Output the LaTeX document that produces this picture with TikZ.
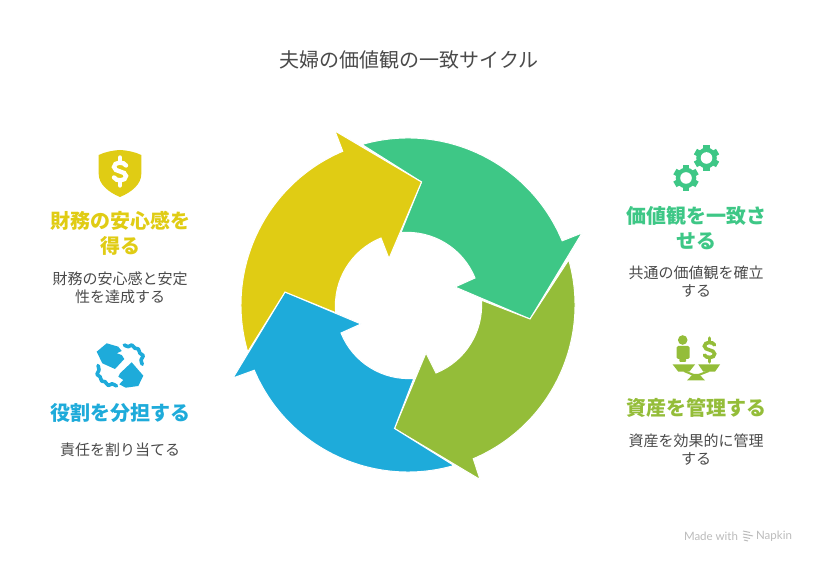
\documentclass[tikz,border=0pt]{standalone}
\usepackage{fontspec}
\setmainfont{Noto Sans CJK JP}
\newfontfamily\footfont{Lato}
\definecolor{ringyellow}{HTML}{E0CC14}
\definecolor{ringgreen}{HTML}{3EC786}
\definecolor{ringlime}{HTML}{94BD39}
\definecolor{ringblue}{HTML}{1EABDA}
\definecolor{bodygray}{HTML}{4A4A4A}
\definecolor{footgray}{HTML}{BBBBBB}
\tikzset{
    pics/dollar/.style={code={
        \draw[pic actions,line width=#1,line cap=round] (6,6) .. controls (4,10) and (-6,10) .. (-6,4.5)
            .. controls (-6,-1) and (6,1) .. (6,-4.5)
            .. controls (6,-10) and (-4,-10) .. (-6,-6);
        \draw[pic actions,line width=#1,line cap=round] (0,9) -- (0,14);
        \draw[pic actions,line width=#1,line cap=round] (0,-9) -- (0,-14);
    }},
    gear/.pic={
        \fill[pic actions] (0,0) circle (10.3);
        \foreach \ang in {0,60,...,300}
            \fill[pic actions,rotate=\ang] (-3.2,8) rectangle (3.2,12.8);
        \fill[white] (0,0) circle (5.8);
    }
}

\begin{document}
\begin{tikzpicture}[
        x=1pt,y=1pt,
        petal/.style={draw=white,line width=1pt,line join=miter},
        titletext/.style={text=bodygray,font=\fontsize{20}{26}\selectfont},
        headtext/.style={align=center,inner sep=0pt,font=\fontsize{20}{25.5}\selectfont\bfseries},
        desctext/.style={text=bodygray,align=center,inner sep=0pt,font=\fontsize{15}{18}\selectfont},
        wavy/.style={draw=ringblue,line width=3.6pt,line cap=round,line join=round},
    ]
    \useasboundingbox (0,0) rectangle (816,564);
    \coordinate (c) at (408,259);

    % ring of arrows
    \fill[ringgreen,petal] ([shift={(106:167)}]c) arc[start angle=106,end angle=22.6,radius=167]
        -- (582,331) -- (530,245) -- (455,277) -- (475,286)
        arc[start angle=22,end angle=95,radius=73] -- (421.5,382) -- cycle;
    \fill[ringlime,petal] ([shift={(15.7:167)}]c) arc[start angle=15.7,end angle=-67,radius=167]
        -- (480,84.5) -- (394.5,135.5) -- (426,211) -- (436,191)
        arc[start angle=-68,end angle=4,radius=73] -- (530,245) -- cycle;
    \fill[ringblue,petal] ([shift={(-74:167)}]c) arc[start angle=-74,end angle=-157,radius=167]
        -- (233,186) -- (285,272) -- (361,240) -- (341,231)
        arc[start angle=-158,end angle=-86,radius=73] -- (394.5,135.5) -- cycle;
    \fill[ringyellow,petal] ([shift={(196.3:167)}]c) arc[start angle=196.3,end angle=113,radius=167]
        -- (335,433) -- (421.5,382) -- (389,305.5) -- (381,326)
        arc[start angle=112,end angle=185.5,radius=73] -- (285,272) -- cycle;

    % title
    \node[titletext] (title) at (409,504.5) {夫婦の価値観の一致サイクル};

    % left column
    \fill[ringyellow] (120,414) .. controls (112,413.5) and (105,412) .. (98.7,409)
        -- (98.7,390) .. controls (98.7,380) and (108,372) .. (120,367)
        .. controls (132,372) and (141.3,380) .. (141.3,390) -- (141.3,409)
        .. controls (135,412) and (128,413.5) .. cycle;
    \pic[draw=white] (sign) at (120,392.5) {dollar=4.4pt};
    \node[headtext,text=ringyellow] (safety) at (120,330.5) {財務の安心感を\\得る};
    \node[desctext] (safetytext) at (120,276) {財務の安心感と安定\\性を達成する};

    \fill[ringblue] (96.7,212.3) -- (106.7,220.7) -- (118.3,217.3) -- (121.7,213) -- (116.7,210.7)
        -- (121.7,209) -- (124.3,205) -- (115,195) -- (102.3,200.7) -- cycle;
    \fill[ringblue] (131.7,201.7) -- (143.3,188.3) -- (138.3,178) -- (125.7,176.3) -- (119.3,179.7)
        -- (123.3,184) -- (118.3,187.3) -- (120,190.7) -- cycle;
    \draw[wavy] plot[smooth] coordinates {(124.3,219) (128.3,217.3) (131.7,219) (135,215.7) (138.3,215) (140,210.7) (143.3,208.3) (141,204) (142.3,199.7)};
    \draw[wavy] plot[smooth] coordinates {(116.5,178) (112,180.2) (108.3,178.5) (105,182.3) (101.7,183) (100,187.3) (97,189.7) (99,194) (98,198.5)};
    \node[headtext,text=ringblue] (roles) at (120,151) {役割を分担する};
    \node[desctext] (rolestext) at (120,114) {責任を割り当てる};

    % right column
    \pic[fill=ringgreen] (gearone) at (706.5,406) {gear};
    \pic[fill=ringgreen] (geartwo) at (686,386) {gear};
    \node[headtext,text=ringgreen] (values) at (696,336) {価値観を一致さ\\せる};
    \node[desctext] (valuestext) at (696,282) {共通の価値観を確立\\する};

    \fill[ringlime] (682.7,224) circle (4.8);
    \fill[ringlime,rounded corners=1.5pt] (676.5,218) rectangle (689.5,205);
    \fill[ringlime,rounded corners=1pt] (679.3,210) rectangle (686.2,202);
    \pic[draw=ringlime,scale=0.85] (coin) at (709.5,214) {dollar=3.6pt};
    \fill[ringlime] (672.7,199.5) -- (695,199.5) -- (689.3,192.3) -- (678.3,192.3) -- cycle;
    \fill[ringlime] (698.3,199.5) -- (720,199.5) -- (715,192.3) -- (703.3,192.3) -- cycle;
    \draw[ringlime,line width=2pt] (684,193) -- (696,188) -- (709,193);
    \fill[ringlime] (693,190) -- (699,190) -- (705,183.5) -- (687,183.5) -- cycle;
    \node[headtext,text=ringlime] (assets) at (696,156.5) {資産を管理する};
    \node[desctext] (assetstext) at (696,114) {資産を効果的に管理\\する};

    % footer
    \node[text=footgray,inner sep=0pt,font=\footfont\fontsize{11.5}{14}\selectfont] (made) at (711,28) {Made with};
    \node[text=footgray,inner sep=0pt,font=\footfont\fontsize{11.5}{14}\selectfont] (napkin) at (774,28) {Napkin};
    \draw[footgray,line width=1pt] (743,33) -- (750,31.5) (743,30) -- (753,28) (743,27) -- (750,25.5) (744,24) -- (748,23);
\end{tikzpicture}
\end{document}
